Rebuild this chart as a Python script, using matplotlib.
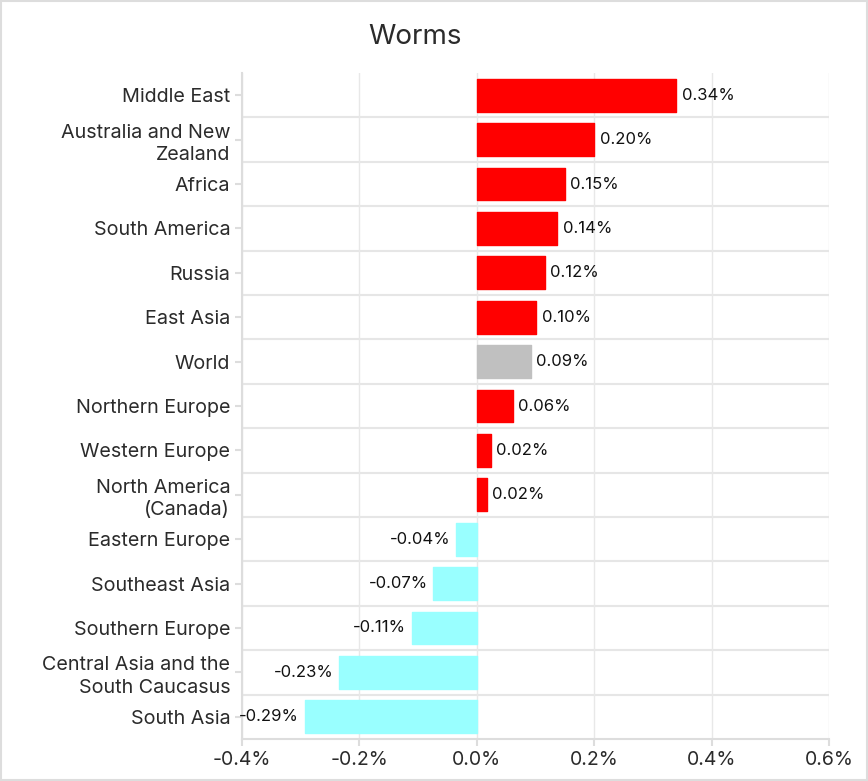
import matplotlib.pyplot as plt
from matplotlib.ticker import FuncFormatter

regions = [
    "Middle East", "Australia and New\nZealand", "Africa", "South America",
    "Russia", "East Asia", "World", "Northern Europe", "Western Europe",
    "North America\n(Canada)", "Eastern Europe", "Southeast Asia",
    "Southern Europe", "Central Asia and the\nSouth Caucasus", "South Asia",
]
values = [0.340, 0.200, 0.150, 0.137, 0.116, 0.101, 0.092, 0.061, 0.024,
          0.017, -0.036, -0.074, -0.111, -0.234, -0.293]
x_ticks = [-0.4, -0.2, 0.0, 0.2, 0.4, 0.6]

RED = "#ff0000"
GREY = "#c0c0c0"
CYAN = "#99ffff"
TEXT = "#2b2b2b"

plt.rcParams["font.family"] = ["Inter", "DejaVu Sans"]

fig = plt.figure(figsize=(8.68, 7.81), dpi=100)
ax = fig.add_axes([0.2788, 0.0538, 0.6762, 0.8527])

colors = []
for name, v in zip(regions, values):
    if name == "World":
        colors.append(GREY)
    elif v >= 0:
        colors.append(RED)
    else:
        colors.append(CYAN)

ypos = list(range(len(regions)))
ax.barh(ypos, values, height=0.74, color=colors, edgecolor=colors,
        linewidth=1, joinstyle="round", zorder=3)

for y, v in zip(ypos, values):
    label = f"{v:.2f}%"
    if v >= 0:
        ax.annotate(label, (v, y), xytext=(4, 0), textcoords="offset points",
                    ha="left", va="center", fontsize=12, color="#111111")
    else:
        ax.annotate(label, (v, y), xytext=(-4, 0), textcoords="offset points",
                    ha="right", va="center", fontsize=12, color="#111111")

ax.set_xlim(-0.4, 0.6)
ax.set_ylim(len(regions) - 0.5, -0.5)
ax.set_xticks(x_ticks)
ax.xaxis.set_major_formatter(FuncFormatter(lambda x, _: f"{x:.1f}%"))
ax.set_yticks(ypos)
ax.set_yticklabels(regions, fontsize=14.2, color=TEXT, linespacing=1.3)
ax.tick_params(axis="x", labelsize=14, labelcolor=TEXT, color="#dddddd",
               length=5, width=1.5)
ax.tick_params(axis="y", color="#dddddd", length=5, width=1.5)

ax.grid(axis="x", color="#e8e8e8", linewidth=1, zorder=0)
for y in ypos[:-1]:
    ax.axhline(y + 0.5, color="#e6e6e6", linewidth=1.5, zorder=1)

for side in ["top", "right"]:
    ax.spines[side].set_visible(False)
for side in ["left", "bottom"]:
    ax.spines[side].set_color("#dddddd")
    ax.spines[side].set_linewidth(1.5)

fig.text(0.478, 0.953, "Worms", ha="center", va="center", fontsize=20,
         color=TEXT)

fig.patches.append(plt.Rectangle((0.001, 0.001), 0.998, 0.998,
                                 transform=fig.transFigure, fill=False,
                                 edgecolor="#dddddd", linewidth=1.5))

fig.savefig("out.png", dpi=100)
